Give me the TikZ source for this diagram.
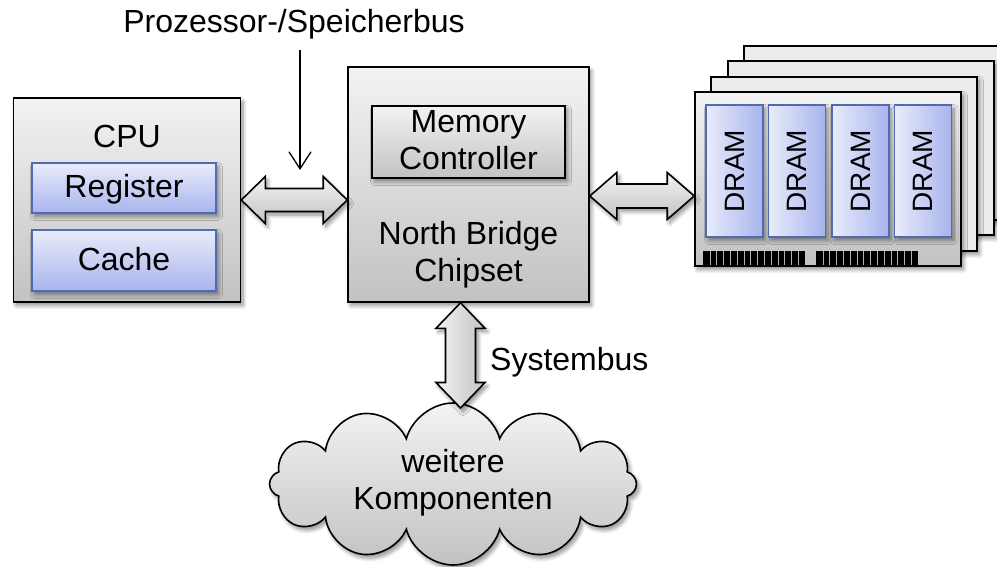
\documentclass[tikz,border=0pt]{standalone}
\usepackage{fontspec}
\setmainfont{Liberation Sans}
\usetikzlibrary{shapes.symbols,shadows.blur,calc,arrows.meta}

\definecolor{grayTop}{HTML}{F3F3F3}
\definecolor{grayBot}{HTML}{C2C2C2}
\definecolor{backGray}{HTML}{ECECEC}
\definecolor{blueTop}{HTML}{E9ECFB}
\definecolor{blueBot}{HTML}{A8B4EC}
\definecolor{blueLine}{HTML}{4E6BB4}

\tikzset{
  softshadow/.style={blur shadow={shadow xshift=2.5pt, shadow yshift=-3.5pt,
      shadow blur radius=4pt, shadow blur steps=8, shadow opacity=45}},
  graybox/.style={draw=black, line width=1.6pt, top color=grayTop,
      bottom color=grayBot, inner sep=0pt, softshadow},
  backmodule/.style={draw=black, line width=1.6pt, fill=backGray,
      inner sep=0pt, softshadow},
  bluebox/.style={draw=blueLine, line width=1.5pt, top color=blueTop,
      bottom color=blueBot, inner sep=0pt, softshadow,
      font=\fontsize{32}{37}\selectfont, text height=20pt, text depth=0pt},
  chip/.style={draw=blueLine, line width=1.5pt, left color=blueTop,
      right color=blueBot, inner sep=0pt, softshadow},
  label/.style={inner sep=0pt, font=\fontsize{32}{37}\selectfont},
  chiplabel/.style={inner sep=0pt, rotate=90,
      font=\fontsize{28}{32}\selectfont},
  busarrow/.style={draw=black, line width=1.6pt, top color=grayTop,
      bottom color=grayBot, line join=miter, softshadow},
  vbusarrow/.style={draw=black, line width=1.6pt, left color=grayTop,
      right color=grayBot, line join=miter, softshadow},
  pointer/.style={draw=black, line width=1.3pt,
      -{Straight Barb[length=17pt,width=22pt,line width=1.3pt]}},
}

% horizontal double arrow between two points:
% #1,#2 tips, #3 head length, #4 head half width, #5 shaft half width
\newcommand\hbus[5]{%
  \path[busarrow] (#1) -- ($(#1)+(#3,-#4)$) -- ($(#1)+(#3,-#5)$)
    -- ($(#2)+(-#3,-#5)$) -- ($(#2)+(-#3,-#4)$) -- (#2)
    -- ($(#2)+(-#3,#4)$) -- ($(#2)+(-#3,#5)$) -- ($(#1)+(#3,#5)$)
    -- ($(#1)+(#3,#4)$) -- cycle;}
% vertical double arrow, #1 upper tip, #2 lower tip
\newcommand\vbus[5]{%
  \path[vbusarrow] (#1) -- ($(#1)+(-#4,#3)$) -- ($(#1)+(-#5,#3)$)
    -- ($(#2)+(-#5,-#3)$) -- ($(#2)+(-#4,-#3)$) -- (#2)
    -- ($(#2)+(#4,-#3)$) -- ($(#2)+(#5,-#3)$) -- ($(#1)+(#5,#3)$)
    -- ($(#1)+(#4,#3)$) -- cycle;}

\begin{document}
\begin{tikzpicture}[x=1pt, y=-1pt]
\useasboundingbox (0,0) rectangle (997,567);
\clip (0,0) rectangle (997,567);

% ---------- CPU ----------
\node[graybox, minimum width=227pt, minimum height=204pt] (cpu) at (127,200) {};
\node[label, anchor=base] (cputxt) at (127,148) {CPU};
\node[bluebox, minimum width=184pt, minimum height=50pt] (reg) at (124,188) {Register};
\node[bluebox, minimum width=184pt, minimum height=61pt] (cache) at (124,260.5) {Cache};

% ---------- North Bridge ----------
\node[graybox, minimum width=241pt, minimum height=235pt] (nb) at (468.5,184.5) {};
\node[graybox, minimum width=193pt, minimum height=72pt] (mc) at (468.5,142) {};
\node[label, anchor=base] (mctxt) at (468.5,133)
  {\begin{tabular}[t]{@{}c@{}}Memory\\Controller\end{tabular}};
\node[label, anchor=base] (nbtxt) at (468.5,244)
  {\begin{tabular}[t]{@{}c@{}}North Bridge\\Chipset\end{tabular}};

% ---------- memory modules ----------
\node[backmodule, minimum width=266pt, minimum height=174pt] (m3) at (877,133) {};
\node[backmodule, minimum width=266pt, minimum height=174pt] (m2) at (861,148) {};
\node[backmodule, minimum width=266pt, minimum height=174pt] (m1) at (844,164) {};
\node[graybox, minimum width=266pt, minimum height=174pt] (m0) at (828,179) {};
\foreach \cx [count=\k] in {734.5,797,860.5,923}{
  \node[chip, minimum width=57pt, minimum height=132pt] (chip\k) at (\cx,171) {};
  \node[chiplabel] (chiptxt\k) at (chip\k.center) {DRAM};
}
% contact pins along the lower edge
\foreach \px in {703,816}{
  \fill[black] (\px,251) rectangle ++(102,14);
  \foreach \i in {1,...,14}
    \draw[gray!60, line width=0.6pt] (\px+\i*6.8,251) -- ++(0,14);
}

% ---------- cloud ----------
\node[cloud, cloud puffs=12, cloud ignores aspect, draw=black, line width=1.6pt,
  top color=grayTop, bottom color=grayBot, inner sep=0pt,
  minimum width=367pt, minimum height=162pt, softshadow] (cloud) at (453,484) {};
\node[label, anchor=base] (cloudtxt) at (453,472)
  {\begin{tabular}[t]{@{}c@{}}weitere\\Komponenten\end{tabular}};

% ---------- buses ----------
\coordinate (pa) at (cpu.east);
\coordinate (pb) at (nb.west |- pa);
\hbus{pa}{pb}{24}{23.5}{11.5}

\coordinate (ma) at ($(nb.east |- 0,196)$);
\coordinate (mb) at (m0.west |- ma);
\hbus{ma}{mb}{27}{23.5}{12}

\coordinate (sa) at ($(nb.south)+(-8,0)$);
\coordinate (sb) at (sa |- 0,408);
\vbus{sa}{sb}{25.5}{24.5}{15}

% ---------- labels ----------
\node[label, anchor=base] (bustxt) at (294,33) {Prozessor-/Speicherbus};
\coordinate (pstart) at (300,50);
\coordinate (pend) at (300,170);
\draw[pointer] (pstart) -- (pend);
\node[label, anchor=base west] (systxt) at (490,370) {Systembus};

\end{tikzpicture}
\end{document}
